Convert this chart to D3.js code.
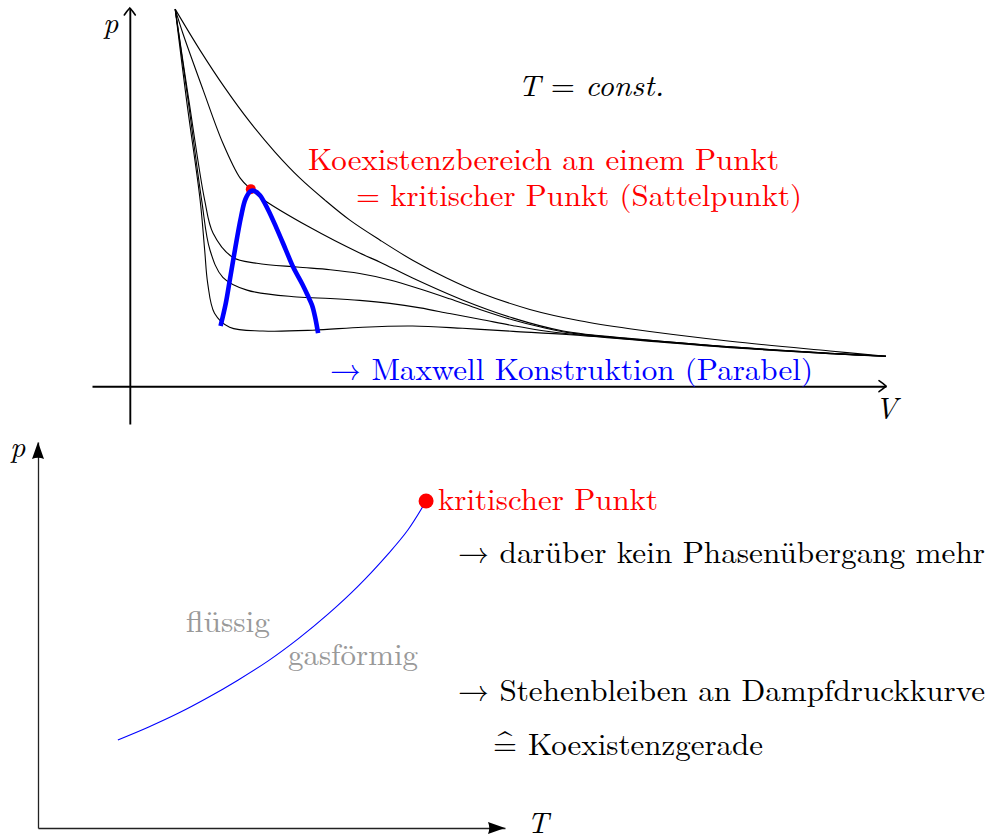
<!DOCTYPE html>
<html>
<head>
<meta charset="utf-8">
<script src="https://cdn.jsdelivr.net/npm/d3@7"></script>
<style>
  html, body { margin: 0; padding: 0; background: #fff; }
  svg { display: block; }
</style>
</head>
<body>
<svg id="chart" width="990" height="839"></svg>
<script>
// ---- p–V diagram: van der Waals isotherms [V, p], hottest first ----
const isothermT1 = [[0.60,9.97],[0.93,8.88],[1.26,7.88],[1.59,6.98],[1.92,6.19],[2.25,5.50],
  [2.58,4.92],[2.91,4.39],[3.31,3.86],[3.74,3.33],[4.19,2.86],[4.63,2.47],[5.29,2.03],[5.95,1.73],
  [6.61,1.52],[7.94,1.19],[9.26,0.93],[10.0,0.79]];
const isothermCrit = [[0.60,9.97],[0.70,9.34],[0.97,7.83],[1.23,6.43],[1.46,5.50],[1.60,5.21],
  [1.74,4.97],[2.38,4.20],[3.04,3.52],[3.31,3.28],[3.74,2.86],[4.40,2.28],[5.07,1.80],[5.73,1.46],
  [6.75,1.24],[7.94,1.04],[9.26,0.87],[10.0,0.79]];
const isothermT3 = [[0.60,9.97],[0.78,7.57],[0.99,4.92],[1.10,4.05],[1.36,3.41],[1.68,3.25],
  [2.21,3.15],[2.65,3.08],[3.04,2.98],[3.44,2.81],[3.84,2.57],[4.23,2.31],[4.63,2.03],[5.07,1.75],
  [5.42,1.57],[5.82,1.41],[6.75,1.23],[7.94,1.04],[9.26,0.87],[10.0,0.79]];
const isothermT4 = [[0.60,9.97],[0.77,7.57],[0.95,4.92],[1.06,3.60],[1.23,2.88],[1.55,2.54],
  [2.21,2.36],[2.65,2.32],[3.04,2.27],[3.44,2.19],[3.84,2.07],[4.23,1.92],[4.63,1.77],[5.07,1.60],
  [5.42,1.48],[5.82,1.38],[6.75,1.22],[7.94,1.03],[9.26,0.86],[10.0,0.79]];
const isothermT5 = [[0.60,9.97],[0.75,7.57],[0.93,4.92],[0.99,3.60],[1.03,2.72],[1.12,1.93],
  [1.32,1.56],[1.76,1.46],[2.42,1.48],[3.08,1.56],[3.74,1.59],[4.40,1.53],[5.07,1.45],[5.82,1.36],
  [6.75,1.21],[7.94,1.02],[9.26,0.86],[10.0,0.79]];
const isotherms = [isothermT1, isothermCrit, isothermT3, isothermT4, isothermT5];

// Maxwell construction: coexistence boundary (parabola-like)
const maxwellCurve = [[1.20,1.59],[1.27,2.20],[1.32,2.78],[1.39,3.60],[1.47,4.47],[1.53,4.95],
  [1.60,5.16],[1.65,5.16],[1.72,5.05],[1.83,4.66],[1.94,4.18],[2.06,3.62],[2.16,3.15],[2.28,2.70],
  [2.35,2.41],[2.41,2.14],[2.45,1.83],[2.49,1.40]];
const criticalPV = [1.60, 5.21];

// ---- p–T diagram: vapour pressure curve [T, p] ending at the critical point ----
const vapourCurve = [[1.71,2.28],[2.36,2.61],[3.00,2.97],[3.64,3.38],[4.28,3.83],[4.93,4.33],
  [5.57,4.90],[6.21,5.54],[6.85,6.26],[7.49,7.09],[7.92,7.72],[8.31,8.47]];
const criticalPT = [8.31, 8.47];

const svg = d3.select("#chart");
const FS = 30;
const SERIF = '"Latin Modern Roman", "CMU Serif", "Liberation Serif", serif';

// text helper: fixed font size, fitted to the wanted width
function label(g, x, y, parts, width, color) {
  const t = g.append("text").attr("x", x).attr("y", y)
    .style("font-family", SERIF)
    .attr("font-size", FS).attr("fill", color || "#000");
  parts.forEach(p => {
    const s = t.append("tspan").text(p.t);
    if (p.i) s.attr("font-style", "italic");
  });
  if (width) t.attr("textLength", width).attr("lengthAdjust", "spacingAndGlyphs");
  return t;
}

// ================= upper panel: p–V =================
const xV = d3.scaleLinear().domain([-0.5, 10]).range([92, 886]);
const yP = d3.scaleLinear().domain([-1, 10]).range([424, 8]);
const gTop = svg.append("g");

// axes
const axX = gTop.append("g").attr("transform", `translate(0,${yP(0)})`)
  .call(d3.axisBottom(xV).tickValues([]).tickSizeOuter(0));
const axY = gTop.append("g").attr("transform", `translate(${xV(0)},0)`)
  .call(d3.axisLeft(yP).tickValues([]).tickSizeOuter(0));
[axX, axY].forEach(a => a.select(".domain").attr("stroke", "#000").attr("stroke-width", 1.9));

// open "to" arrow heads
function openArrow(g, x, y, angle) {
  g.append("path")
    .attr("d", "M-5.5,7 C-3.5,4 -1.2,1.2 0,0 C1.2,1.2 3.5,4 5.5,7")
    .attr("transform", `translate(${x},${y}) rotate(${angle})`)
    .attr("fill", "none").attr("stroke", "#000").attr("stroke-width", 1.6)
    .attr("stroke-linecap", "round");
}
openArrow(gTop, xV(0), yP(10), 0);
openArrow(gTop, xV(10), yP(0), 90);

const lineV = d3.line().x(d => xV(d[0])).y(d => yP(d[1])).curve(d3.curveCatmullRom.alpha(0.5));

gTop.append("g").selectAll("path").data(isotherms).join("path")
  .attr("d", lineV).attr("fill", "none").attr("stroke", "#000").attr("stroke-width", 1.1);

gTop.append("circle").attr("cx", xV(criticalPV[0])).attr("cy", yP(criticalPV[1]))
  .attr("r", 5).attr("fill", "#ff0000");

gTop.append("path").datum(maxwellCurve).attr("d", lineV)
  .attr("fill", "none").attr("stroke", "#0000ff").attr("stroke-width", 4.6)
  .attr("stroke-linejoin", "round");

// labels
label(gTop, 103, 33, [{t: "p", i: true}], null);
label(gTop, 875, 419, [{t: "V", i: true}], null);
label(gTop, 518, 96, [{t: "T", i: true}, {t: " = "}, {t: "const.", i: true}], 146);
label(gTop, 308, 170, [{t: "Koexistenzbereich an einem Punkt"}], 471, "#ff0000");
label(gTop, 356, 206, [{t: "= kritischer Punkt (Sattelpunkt)"}], 446, "#ff0000");
label(gTop, 330, 380, [{t: "→ Maxwell Konstruktion (Parabel)"}], 483, "#0000ff");

// ================= lower panel: p–T =================
const xT = d3.scaleLinear().domain([0, 10]).range([38, 505]);
const yPT = d3.scaleLinear().domain([0, 10]).range([828, 442]);
const gBot = svg.append("g");

const bx = gBot.append("g").attr("transform", `translate(0,${yPT(0)})`)
  .call(d3.axisBottom(xT).tickValues([]).tickSizeOuter(0));
const by = gBot.append("g").attr("transform", `translate(${xT(0)},0)`)
  .call(d3.axisLeft(yPT).tickValues([]).tickSizeOuter(0));
[bx, by].forEach(a => a.select(".domain").attr("stroke", "#222").attr("stroke-width", 1.3));

// filled latex-style arrow heads
function solidArrow(g, x, y, angle) {
  g.append("path").attr("d", "M0,0 L-6,17 Q0,14.5 6,17 Z")
    .attr("transform", `translate(${x},${y}) rotate(${angle})`)
    .attr("fill", "#000");
}
solidArrow(gBot, xT(0), yPT(10), 0);
solidArrow(gBot, xT(10), yPT(0), 90);

const lineT = d3.line().x(d => xT(d[0])).y(d => yPT(d[1])).curve(d3.curveCatmullRom.alpha(0.5));
gBot.append("path").datum(vapourCurve).attr("d", lineT)
  .attr("fill", "none").attr("stroke", "#0000ff").attr("stroke-width", 1.1);

gBot.append("circle").attr("cx", xT(criticalPT[0])).attr("cy", yPT(criticalPT[1]))
  .attr("r", 7.5).attr("fill", "#ff0000");

label(gBot, 10, 457, [{t: "p", i: true}], null);
label(gBot, 527, 833, [{t: "T", i: true}], null);
label(gBot, 438, 510, [{t: "kritischer Punkt"}], 220, "#ff0000");
label(gBot, 458, 563, [{t: "→ darüber kein Phasenübergang mehr"}], 527);
label(gBot, 186, 632, [{t: "flüssig"}], 84, "#999999");
label(gBot, 288, 665, [{t: "gasförmig"}], 130, "#999999");
label(gBot, 458, 701, [{t: "→ Stehenbleiben an Dampfdruckkurve"}], 527);
// "corresponds to" sign: equals with a wide hat
label(gBot, 493, 755, [{t: "="}], 24);
label(gBot, 493, 752, [{t: "ˆ"}], 24);
label(gBot, 528, 755, [{t: "Koexistenzgerade"}], 235);
</script>
</body>
</html>
